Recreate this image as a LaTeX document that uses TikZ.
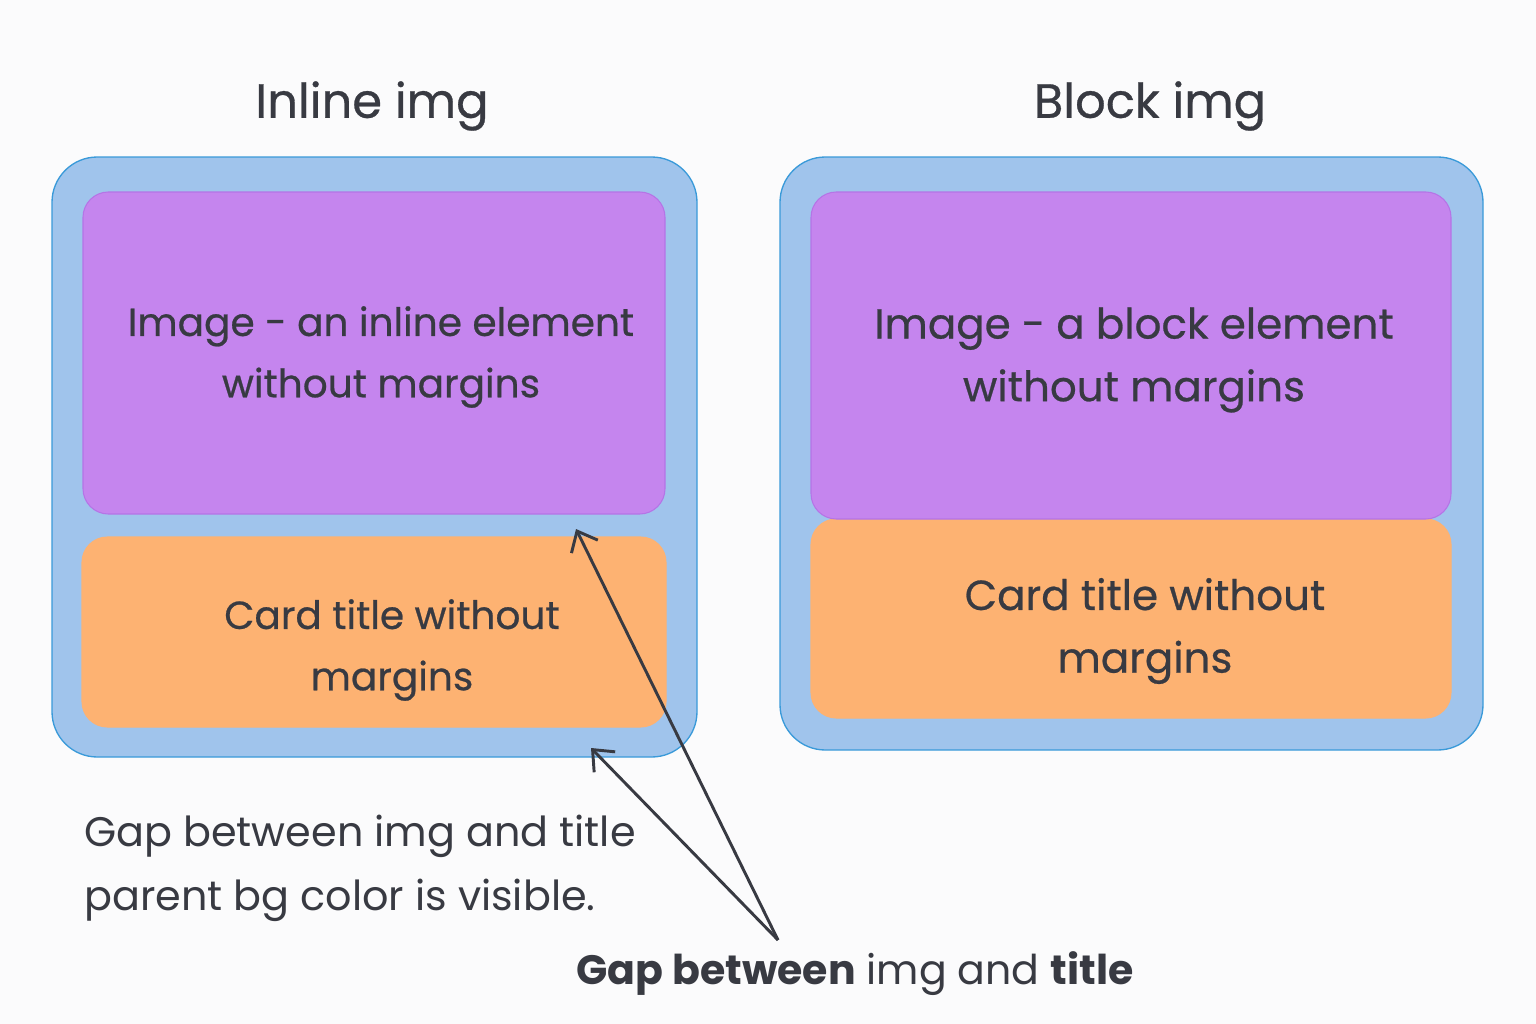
\documentclass[tikz,border=0pt]{standalone}
\usepackage{fontspec}
\setmainfont{Poppins}
\newfontfamily\medfont{Poppins}[FakeBold=0.6]
\usetikzlibrary{arrows.meta}
\definecolor{bgc}{HTML}{FBFBFC}
\definecolor{outerfill}{HTML}{A0C4EC}
\definecolor{outerline}{HTML}{3A9AD9}
\definecolor{purp}{HTML}{C585EE}
\definecolor{purpline}{HTML}{B574E6}
\definecolor{orng}{HTML}{FDB272}
\definecolor{ink}{HTML}{383A42}
\tikzset{
  outerbox/.style={fill=outerfill, draw=outerline, line width=1pt, rounded corners=34pt},
  imgbox/.style={fill=purp, draw=purpline, line width=0.8pt, rounded corners=19pt},
  titlebox/.style={fill=orng, draw=orng, line width=0.8pt, rounded corners=19pt},
  heading/.style={text=ink, font=\medfont\fontsize{36}{40}\selectfont, inner sep=0pt},
  boxtext/.style={text=ink, font=\medfont\fontsize{29.3}{46}\selectfont, align=center, inner sep=0pt},
  boxtextR/.style={text=ink, font=\medfont\fontsize{31.5}{47}\selectfont, align=center, inner sep=0pt},
  note/.style={text=ink, font=\fontsize{31}{48}\selectfont, align=left, inner sep=0pt},
  pointer/.style={draw=ink, line width=2.2pt, -{Straight Barb[length=13pt,width=22pt,line width=2.2pt]}}
}
\begin{document}
\begin{tikzpicture}[x=0.75pt,y=-0.75pt]
\useasboundingbox[fill=bgc] (0,0) rectangle (1536,1024);
% left card
\draw[outerbox] (52,157) rectangle (697,757);
\draw[imgbox] (83,192) rectangle (665,514);
\draw[titlebox] (82,537) rectangle (666,727);
% right card
\draw[outerbox] (780,157) rectangle (1483,750);
\draw[titlebox] (811,519) rectangle (1451,718);
\draw[imgbox] (811,192) rectangle (1451,519);
% headings
\node[heading] (h1) at (372,106) {Inline img};
\node[heading] (h2) at (1150,106) {Block img};
% box texts
\node[boxtext] (t1) at (381,357) {Image - an inline element\\without margins};
\node[boxtext] (t2) at (392,650) {Card title without\\margins};
\node[boxtextR] (t3) at (1134,360) {Image - a block element\\without margins};
\node[boxtextR] (t4) at (1145,631) {Card title without\\margins};
% notes
\node[note, anchor=west] (n1) at (84,868) {Gap between img and title\\parent bg color is visible.};
\node[text=ink, inner sep=0pt, font=\fontsize{30.8}{36}\selectfont] (n2) at (855,974) {\textbf{Gap between} img and \textbf{title}};
% arrows
\coordinate (apex) at (778,940);
\coordinate (gapA) at (576,529);
\coordinate (gapB) at (591,748);
\draw[pointer] (apex) -- (gapA);
\draw[pointer] (apex) -- (gapB);
\end{tikzpicture}
\end{document}
